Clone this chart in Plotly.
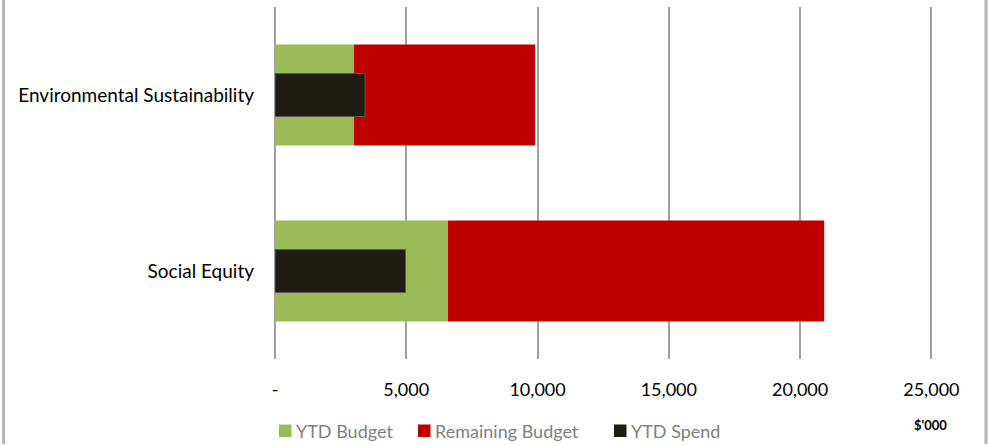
import plotly.graph_objects as go

# Program spend vs budget ($'000)
categories = ["Social Equity", "Environmental Sustainability"]
ytd_budget = [6590, 3010]
remaining_budget = [14330, 6900]
ytd_spend = [4970, 3430]

tick_vals = [0, 5000, 10000, 15000, 20000, 25000]
tick_text = ["-", "5,000", "10,000", "15,000", "20,000", "25,000"]

series_names = ["YTD Budget", "Remaining Budget", "YTD Spend"]

GREEN = "#9BBB59"
RED = "#C00000"
DARK = "#1F1D13"
GRID = "#A0A0A0"
FONT = "Lato"

W, H = 988, 446
ML, MR, MT, MB = 275, 54, 7, 87
PW, PH = W - ML - MR, H - MT - MB


def px_x(x):
    return (x - ML) / PW


def px_y(y):
    return (H - MB - y) / PH


fig = go.Figure()
fig.add_trace(go.Bar(
    y=categories, x=ytd_budget, orientation="h", name=series_names[0],
    marker=dict(color=GREEN, line=dict(width=0)), width=0.574,
))
fig.add_trace(go.Bar(
    y=categories, x=remaining_budget, base=ytd_budget, orientation="h",
    name=series_names[1], marker=dict(color=RED, line=dict(width=0)),
    width=0.574,
))
fig.add_trace(go.Bar(
    y=categories, x=ytd_spend, orientation="h", name=series_names[2],
    marker=dict(color=DARK, line=dict(color="#5a5a50", width=1)),
    width=0.244,
))

# legend drawn as swatches + labels beneath the axis
legend_colors = [GREEN, RED, DARK]
legend_swatch_x = [279, 418, 614]
shapes = []
annotations = []
for name, color, sx in zip(series_names, legend_colors, legend_swatch_x):
    shapes.append(dict(
        type="rect", xref="paper", yref="paper",
        x0=px_x(sx), x1=px_x(sx + 12.5), y0=px_y(437), y1=px_y(424.5),
        fillcolor=color, line=dict(width=0),
    ))
    annotations.append(dict(
        text=name, x=px_x(sx + 15), y=px_y(430.5), xref="paper", yref="paper",
        xanchor="left", yanchor="middle", showarrow=False,
        font=dict(family=FONT, size=18, color="#7F7F7F"),
    ))

annotations.append(dict(
    text="<b>$'000</b>", x=px_x(930), y=px_y(425), xref="paper", yref="paper",
    xanchor="center", yanchor="middle", showarrow=False,
    font=dict(family=FONT, size=13, color="#000000"),
))

# chart-area frame (side edges)
for fx in (3.5, 986):
    shapes.append(dict(
        type="line", xref="paper", yref="paper",
        x0=px_x(fx), x1=px_x(fx), y0=px_y(444), y1=px_y(-5),
        line=dict(color="#B4B4B4", width=3), layer="below",
    ))

fig.update_layout(
    width=W, height=H,
    margin=dict(l=ML, r=MR, t=MT, b=MB, autoexpand=False),
    barmode="overlay",
    plot_bgcolor="white", paper_bgcolor="white",
    font=dict(family=FONT, size=18, color="#000000"),
    showlegend=False,
    xaxis=dict(
        range=[0, 25100], tickvals=tick_vals, ticktext=tick_text,
        showgrid=True, gridcolor=GRID, gridwidth=1.5,
        zeroline=True, zerolinecolor=GRID, zerolinewidth=1.5,
        showline=False, ticks="", ticklabelstandoff=18,
        tickfont=dict(family=FONT, size=18, color="#000000"),
        automargin=False, fixedrange=True,
    ),
    yaxis=dict(
        type="category", categoryorder="array", categoryarray=categories,
        showgrid=False, zeroline=False, showline=False, ticks="",
        ticklabelstandoff=20,
        tickfont=dict(family=FONT, size=19, color="#000000"),
        automargin=False, fixedrange=True,
    ),
    annotations=annotations,
    shapes=shapes,
)

fig.write_html("out.html")
